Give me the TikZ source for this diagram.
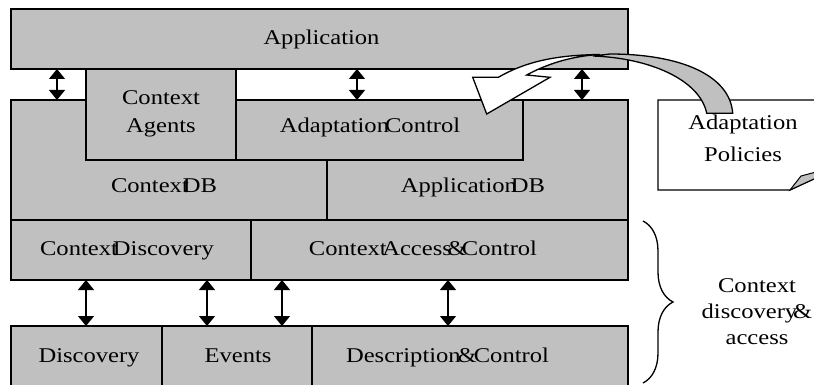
\documentclass[tikz,border=0pt]{standalone}
\usepackage{fontspec}
\setmainfont{Liberation Serif}[FakeStretch=1.17]
\usetikzlibrary{arrows.meta,decorations.pathreplacing}
\definecolor{boxgray}{HTML}{C0C0C0}
\begin{document}
\begin{tikzpicture}[x=1pt,y=-1pt,
  box/.style={draw=black,line width=1.3pt,fill=boxgray,inner sep=0pt,outer sep=0pt,anchor=north west},
  shapeline/.style={draw=black,line width=1.3pt,fill=boxgray},
  txt/.style={font=\fontsize{21}{28}\selectfont,align=center,inner sep=0pt},
  lbl/.style={txt,anchor=base},
  dbl/.style={line width=1.3pt,{Triangle[width=16pt,length=10pt]}-{Triangle[width=16pt,length=10pt]}},
]
\useasboundingbox (0,0) rectangle (814,385);
% top layer
\node[box,minimum width=617pt,minimum height=60pt] (app) at (11,9) {};
\node[lbl] (apptxt) at (321.5,45) {Application};
% middle layer
\draw[shapeline] (11,100) -- (86,100) -- (86,160) -- (327,160) -- (327,220) -- (11,220) -- cycle;
\draw[shapeline] (327,160) -- (523,160) -- (523,100) -- (628,100) -- (628,220) -- (327,220) -- cycle;
\coordinate (mtop) at (11,100);
\node[box,minimum width=150pt,minimum height=91pt] (agents) at (86,69) {};
\node[box,minimum width=287pt,minimum height=60pt] (adapt) at (236,100) {};
\node[txt,font=\fontsize{21}{28}\selectfont] (agtxt) at (161,114) {Context\\Agents};
\node[lbl] (adtxt) at (370,133) {Adaptation\kern-4pt Control};
\node[lbl] (cdbtxt) at (164,193) {Context\kern-6pt DB};
\node[lbl] (adbtxt) at (473,193) {Application\kern-6pt DB};
% context row
\node[box,minimum width=240pt,minimum height=60pt] (cdisc) at (11,220) {};
\node[box,minimum width=377pt,minimum height=60pt] (cacc) at (251,220) {};
\node[lbl] (cdisctxt) at (127,255) {Context\kern-5pt Discovery};
\node[lbl] (cacctxt) at (423,255) {Context\kern-4.5pt Access\kern-4.5pt \&\kern-4.5pt Control};
% bottom row
\node[box,minimum width=151pt,minimum height=66pt] (disc) at (11,326) {};
\node[box,minimum width=150pt,minimum height=66pt] (events) at (162,326) {};
\node[box,minimum width=316pt,minimum height=66pt] (desc) at (312,326) {};
\node[lbl] (disctxt) at (89,362) {Discovery};
\node[lbl] (evtxt) at (238,362) {Events};
\node[lbl] (desctxt) at (447.5,362) {Description\kern-3pt \&\kern-3pt Control};
% arrows
\draw[dbl] ([xshift=46pt]app.south west) -- ([xshift=46pt]mtop);
\draw[dbl] ([xshift=346pt]app.south west) -- ([xshift=121pt]adapt.north west);
\draw[dbl] ([xshift=571pt]app.south west) -- ([xshift=571pt]mtop);
\draw[dbl] ([xshift=75pt]cdisc.south west) -- ([xshift=75pt]disc.north west);
\draw[dbl] ([xshift=196pt]cdisc.south west) -- ([xshift=45pt]events.north west);
\draw[dbl] ([xshift=31pt]cacc.south west) -- ([xshift=120pt]events.north west);
\draw[dbl] ([xshift=197pt]cacc.south west) -- ([xshift=136pt]desc.north west);
% note
\draw[line width=1.3pt,fill=white] (658,100) -- (830,100) -- (830,170) -- (816,178) -- (790,190) -- (658,190) -- cycle;
\draw[line width=1pt,fill=boxgray] (790,190) -- (801,176) -- (816,172) -- (816,178) -- cycle;
\node[txt,font=\fontsize{21}{32}\selectfont] (pol) at (743,138) {Adaptation\\Policies};
% curved arrow
\draw[line width=1.3pt,fill=white,line join=miter] (472.7,77.3) -- (498.3,77.3) .. controls (525,62) and (555,55) .. (600,54.5)
  .. controls (570,56) and (545,65) .. (526.7,75) -- (550,77.3) -- (486.7,114) -- cycle;
\draw[line width=1.3pt,fill=boxgray] (593,56) .. controls (650,58) and (700,80) .. (706.7,113.3) -- (732.7,113.3)
  .. controls (730,75) and (680,54) .. (610,54) -- cycle;
% brace
\draw[decorate,decoration={brace,amplitude=30pt},line width=1.3pt] (643,221) -- (643,383);
\node[txt,font=\fontsize{21}{26}\selectfont] (bracetxt) at (757,312) {Context\\discovery\kern-4pt \&\\access};
\end{tikzpicture}
\end{document}
